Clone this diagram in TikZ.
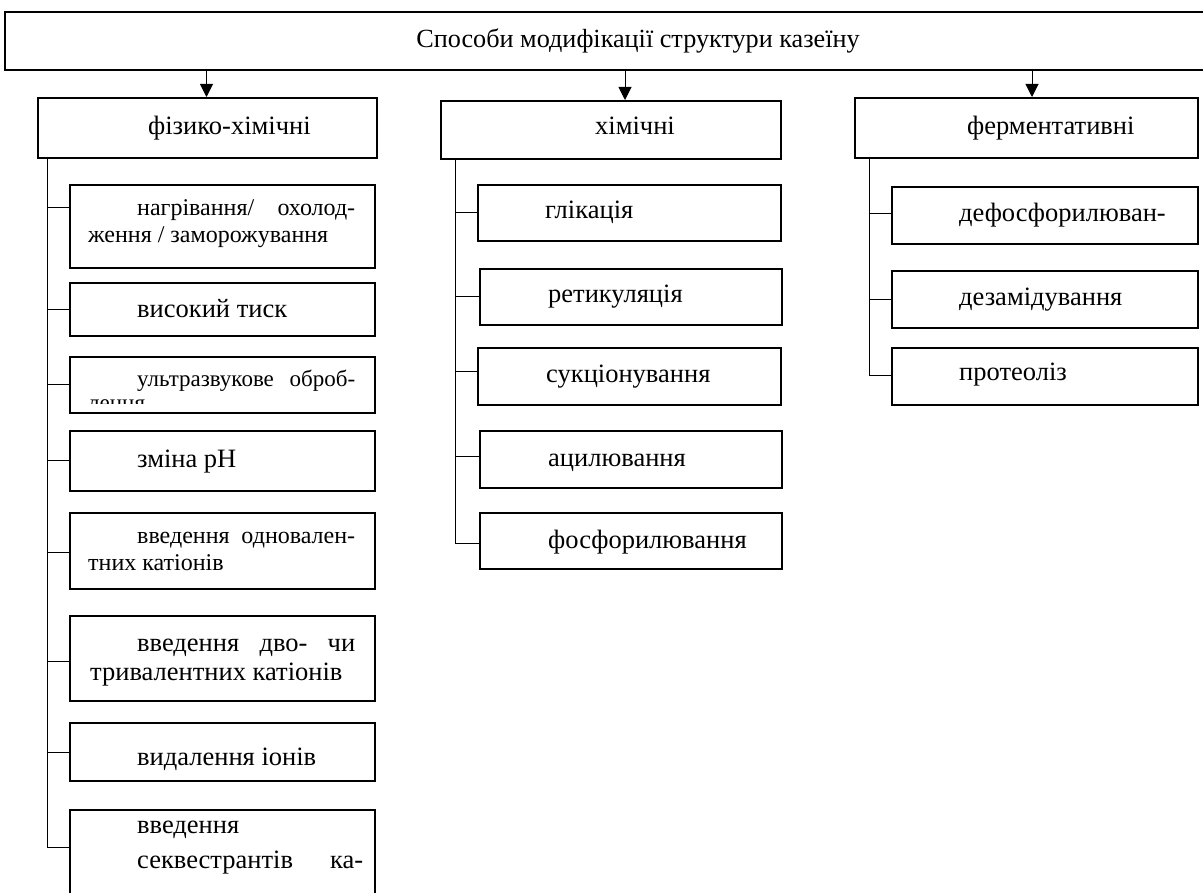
\documentclass[tikz,border=0pt]{standalone}
\usepackage{fontspec}
\setmainfont{Liberation Serif}
\usetikzlibrary{arrows.meta}
\begin{document}
\begin{tikzpicture}[x=1pt,y=-1pt,
 box/.style={draw,line width=1.6pt,inner sep=0pt,anchor=north west},
 conn/.style={line width=1pt},
 arr/.style={line width=1pt,-{Triangle[length=13pt,width=13pt]}},
 big/.style={font=\fontsize{26.5}{31}\selectfont,inner sep=0pt,anchor=base west},
 small/.style={font=\fontsize{24}{27}\selectfont,inner sep=0pt,anchor=base west},
 smaller/.style={font=\fontsize{23}{27}\selectfont,inner sep=0pt,anchor=base west}]
\useasboundingbox (0,0) rectangle (1203,893);
\clip (0,0) rectangle (1203,893);
% top
\node[box,minimum width=1262pt,minimum height=58pt] (top) at (4,11) {};
\node[big,anchor=base,font=\fontsize{26.2}{31}\selectfont] (title) at (638,48) {Способи модифікації структури казеїну};
% level 2
\node[box,minimum width=339pt,minimum height=60pt] (A) at (37,97) {};
\node[big] (At) at (148,135) {фізико-хімічні};
\node[box,minimum width=340pt,minimum height=58pt] (B) at (440,100) {};
\node[big] (Bt) at (595,135) {хімічні};
\node[box,minimum width=343pt,minimum height=60pt] (C) at (854,97) {};
\node[big] (Ct) at (967,135) {ферментативні};
\coordinate (pA) at (206.5,97);
\coordinate (pB) at (625,100);
\coordinate (pC) at (1032,97);
\draw[arr] (pA |- top.south) -- (pA);
\draw[arr] (pB |- top.south) -- (pB);
\draw[arr] (pC |- top.south) -- (pC);
% children of A
\node[box,minimum width=305pt,minimum height=83pt] (a1) at (69,184) {};
\node[small] (a1t1) at (137,216) {\makebox[218pt][s]{нагрівання/ охолод-}};
\node[small] (a1t2) at (88,243) {ження / заморожування};
\node[box,minimum width=305pt,minimum height=53pt] (a2) at (69,282) {};
\node[big] (a2t) at (137,318) {високий тиск};
\node[box,minimum width=305pt,minimum height=56pt] (a3) at (69,356) {};
\node[smaller] (a3t1) at (137,387) {\makebox[218pt][s]{ультразвукове оброб-}};
\begin{scope}
\clip (69,356) rectangle (374,404);
\node[smaller] (a3t2) at (88,411) {лення};
\end{scope}
\node[box,minimum width=305pt,minimum height=60pt] (a4) at (69,430) {};
\node[big] (a4t) at (137,467) {зміна pH};
\node[box,minimum width=305pt,minimum height=76pt] (a5) at (69,512) {};
\node[small] (a5t1) at (137,543) {\makebox[218pt][s]{введення одновален-}};
\node[small] (a5t2) at (88,570) {тних катіонів};
\node[box,minimum width=305pt,minimum height=85pt] (a6) at (69,615) {};
\node[big] (a6t1) at (137,651) {\makebox[218pt][s]{введення дво- чи}};
\node[big] (a6t2) at (90,680) {тривалентних катіонів};
\node[box,minimum width=305pt,minimum height=58pt] (a7) at (69,722) {};
\node[big] (a7t) at (137,765) {видалення іонів};
\node[box,minimum width=305pt,minimum height=100pt] (a8) at (69,809) {};
\node[big] (a8t1) at (137,833) {введення};
\node[big] (a8t2) at (137,868) {\makebox[226pt][s]{секвестрантів ка-}};
\draw[conn] (A.south -| 47,0) -- (47,847) -- (a8.west |- 0,847);
\draw[conn] (47,208) -- (a1.west |- 0,208);
\draw[conn] (47,310) -- (a2.west |- 0,310);
\draw[conn] (47,385) -- (a3.west |- 0,385);
\draw[conn] (47,460) -- (a4.west |- 0,460);
\draw[conn] (47,552) -- (a5.west |- 0,552);
\draw[conn] (47,661) -- (a6.west |- 0,661);
\draw[conn] (47,752) -- (a7.west |- 0,752);
% children of B
\node[box,minimum width=303pt,minimum height=56pt] (b1) at (477,184) {};
\node[big] (b1t) at (545,219) {глікація};
\node[box,minimum width=302pt,minimum height=56pt] (b2) at (479,268) {};
\node[big] (b2t) at (548,303) {ретикуляція};
\node[box,minimum width=303pt,minimum height=57pt] (b3) at (477,347) {};
\node[big] (b3t) at (546,383) {сукціонування};
\node[box,minimum width=302pt,minimum height=57pt] (b4) at (479,430) {};
\node[big] (b4t) at (548,466) {ацилювання};
\node[box,minimum width=302pt,minimum height=56pt] (b5) at (479,512) {};
\node[big] (b5t) at (548,548) {фосфорилювання};
\draw[conn] (B.south -| 455,0) -- (455,543) -- (b5.west |- 0,543);
\draw[conn] (455,213) -- (b1.west |- 0,213);
\draw[conn] (455,297) -- (b2.west |- 0,297);
\draw[conn] (455,372) -- (b3.west |- 0,372);
\draw[conn] (455,456) -- (b4.west |- 0,456);
% children of C
\node[box,minimum width=306pt,minimum height=57pt] (c1) at (891,186) {};
\node[big] (c1t) at (959,222) {дефосфорилюван-};
\node[box,minimum width=306pt,minimum height=57pt] (c2) at (891,270) {};
\node[big] (c2t) at (959,306) {дезамідування};
\node[box,minimum width=306pt,minimum height=57pt] (c3) at (891,347) {};
\node[big] (c3t) at (959,381) {протеоліз};
\draw[conn] (C.south -| 869,0) -- (869,376) -- (c3.west |- 0,376);
\draw[conn] (869,214) -- (c1.west |- 0,214);
\draw[conn] (869,300) -- (c2.west |- 0,300);
\end{tikzpicture}
\end{document}
